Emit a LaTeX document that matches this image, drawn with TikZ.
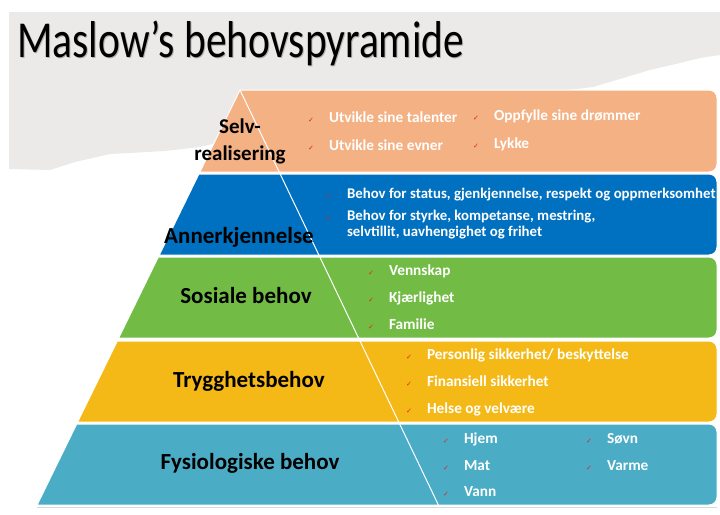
\documentclass[tikz,border=0pt]{standalone}
\usepackage{graphicx}
\usepackage{fontspec}
\setmainfont{Carlito}
\newfontfamily\dejavu{DejaVu Sans}
\usetikzlibrary{positioning}
\definecolor{bggray}{HTML}{EBEAE8}
\definecolor{selfcol}{HTML}{F4B183}
\definecolor{esteemcol}{HTML}{0070C0}
\definecolor{socialcol}{HTML}{72BC46}
\definecolor{safetycol}{HTML}{F4B916}
\definecolor{physcol}{HTML}{4BACC6}
\definecolor{checkred}{HTML}{E32219}
\newcommand{\chk}{\textcolor{checkred}{\dejavu\fontsize{7}{7}\selectfont ✓}\hspace{15pt}}

\begin{document}
\begin{tikzpicture}[x=1pt,y=-1pt,
    title/.style={anchor=base west,inner sep=0pt,font=\fontsize{41.5}{50}\selectfont},
    lbl/.style={align=center,inner sep=0pt,font=\bfseries\fontsize{23}{27}\selectfont},
    item/.style={anchor=base west,inner sep=0pt,text=white,font=\bfseries\fontsize{15.3}{16}\selectfont},
    small/.style={item,align=left,font=\bfseries\fontsize{14.8}{16}\selectfont},
    layer/.style={draw=white,line width=1pt}]
    \useasboundingbox (0,0) rectangle (720,514);

    % torn grey backdrop
    \fill[bggray] (9,12) -- (720,12) -- (720,55) -- (700,58) -- (680,63) -- (650,70)
        -- (620,79) -- (593,87) -- (560,91) -- (400,110) -- (230,140) -- (200,147)
        -- (165,151) -- (130,153) -- (110,154) -- (75,162) -- (50,170) -- (9,169) -- cycle;

    % title
    \node[title,text=black!30] (titleshadow) at (18,58) {\scalebox{1}[1.25]{Maslow’s behovspyramide}};
    \node[title] (title) at (17,57) {\scalebox{1}[1.25]{Maslow’s behovspyramide}};

    % layers of the pyramid
    \fill[selfcol,layer] (199.9,172) -- (240,90) -- (600,90) [rounded corners=8pt]
        -- (717,90) -- (717,172) -- (600,172) [sharp corners] -- cycle;
    \fill[esteemcol,layer] (159.3,255) -- (198.9,174) -- (600,174) [rounded corners=8pt]
        -- (717,174) -- (717,255) -- (600,255) [sharp corners] -- cycle;
    \fill[socialcol,layer] (118.7,338) -- (158.3,257) -- (600,257) [rounded corners=8pt]
        -- (717,257) -- (717,338) -- (600,338) [sharp corners] -- cycle;
    \fill[safetycol,layer] (77.6,422) -- (117.3,341) -- (600,341) [rounded corners=8pt]
        -- (717,341) -- (717,422) -- (600,422) [sharp corners] -- cycle;
    \fill[physcol,layer] (37.1,505) -- (76.7,424) -- (600,424) [rounded corners=8pt]
        -- (717,424) -- (717,505) -- (600,505) [sharp corners] -- cycle;
    \draw[gray!30,line width=1.5pt] (37,507.5) -- (717,507.5);

    \coordinate (apex) at (240,90);
    \coordinate (base) at (438.4,505);
    \draw[white,line width=1pt] (apex) -- (base);

    % level names
    \node[lbl,anchor=base,font=\bfseries\fontsize{21}{27}\selectfont] (self) at (240,160) {Selv-\\realisering};
    \node[lbl,anchor=base] (esteem) at (239,243) {Annerkjennelse};
    \node[lbl,anchor=base] (social) at (246,303) {Sosiale behov};
    \node[lbl,anchor=base] (safety) at (249,387) {Trygghetsbehov};
    \node[lbl,anchor=base] (phys) at (250,469) {Fysiologiske behov};

    % needs
    \node[item] (talent) at (308,122) {\chk Utvikle sine talenter};
    \node[item] (evner) at (308,150) {\chk Utvikle sine evner};
    \node[item] (dream) at (473,120) {\chk Oppfylle sine drømmer};
    \node[item] (lykke) at (473,148) {\chk Lykke};

    \node[small] (status) at (326,198) {\chk Behov for status, gjenkjennelse, respekt og oppmerksomhet};
    \node[small] (styrke) at (326,236) {\chk Behov for styrke, kompetanse, mestring,\\
        \phantom{\chk}selvtillit, uavhengighet og frihet};

    \node[item] (venn) at (368,275) {\chk Vennskap};
    \node[item] (love) at (368,302) {\chk Kjærlighet};
    \node[item] (fam) at (368,329) {\chk Familie};

    \node[item] (pers) at (406,359) {\chk Personlig sikkerhet/ beskyttelse};
    \node[item] (fin) at (406,386) {\chk Finansiell sikkerhet};
    \node[item] (helse) at (406,413) {\chk Helse og velvære};

    \node[item] (hjem) at (443,443) {\chk Hjem};
    \node[item] (mat) at (443,470) {\chk Mat};
    \node[item] (vann) at (443,496) {\chk Vann};
    \node[item] (sovn) at (586,443) {\chk Søvn};
    \node[item] (varme) at (586,470) {\chk Varme};
\end{tikzpicture}
\end{document}
